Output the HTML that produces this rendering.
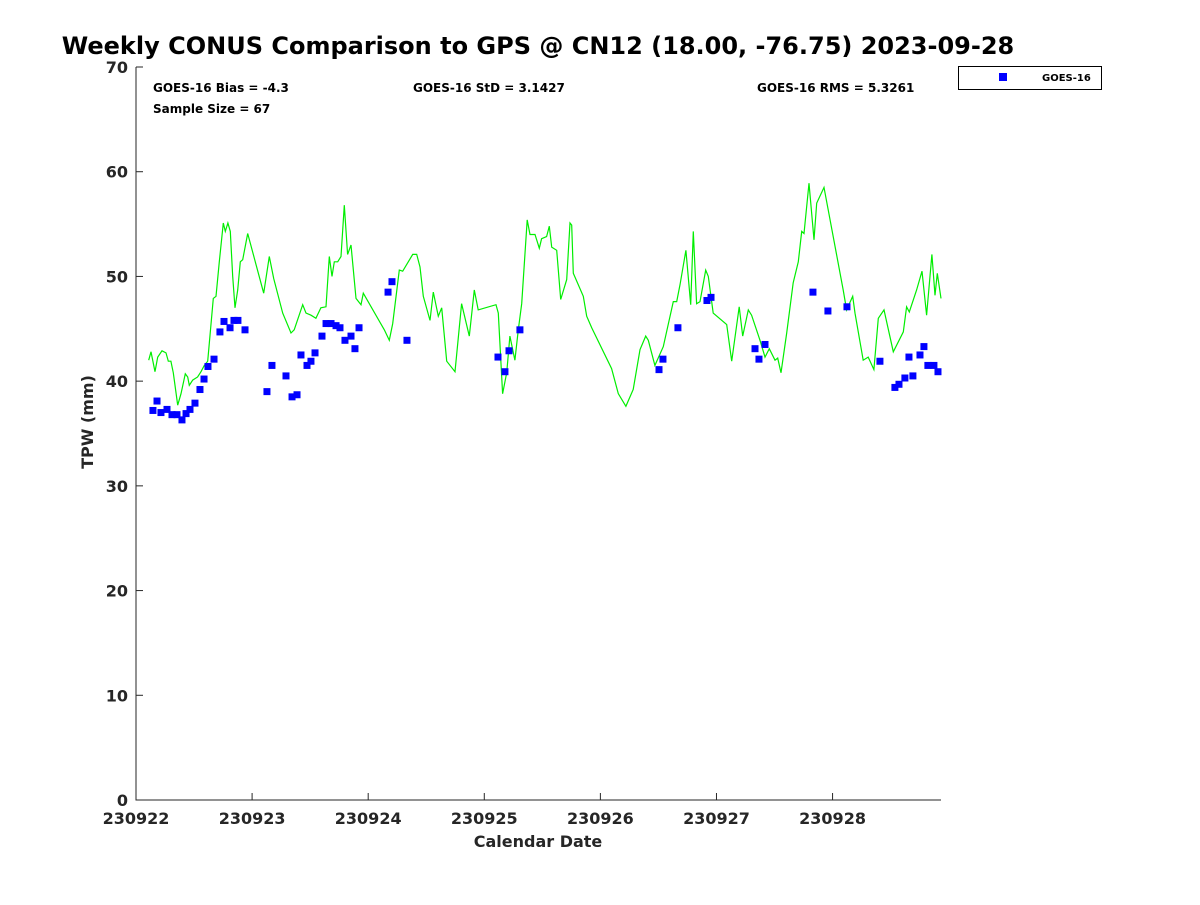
<!DOCTYPE html>
<html><head><meta charset="utf-8"><style>
body{margin:0;background:#fff;font-family:"Liberation Sans","DejaVu Sans",sans-serif;}
</style></head><body>
<svg id="chart" width="1200" height="900" xmlns="http://www.w3.org/2000/svg" style="font-family:'DejaVu Sans','Liberation Sans',sans-serif">
<rect width="1200" height="900" fill="#fff"/>
<text x="538" y="54" text-anchor="middle" font-size="24" font-weight="bold">Weekly CONUS Comparison to GPS @ CN12 (18.00, -76.75) 2023-09-28</text>
<g id="axes"></g>
<g id="series"></g>
<text x="153" y="92" font-size="12" font-weight="bold">GOES-16 Bias = -4.3</text>
<text x="153" y="113" font-size="12" font-weight="bold">Sample Size = 67</text>
<text x="413" y="92" font-size="12" font-weight="bold">GOES-16 StD = 3.1427</text>
<text x="757" y="92" font-size="12" font-weight="bold">GOES-16 RMS = 5.3261</text>
<g>
<rect x="958.5" y="66.5" width="143" height="23" fill="#fff" stroke="#000" stroke-width="1"/>
<rect x="999" y="73" width="8" height="8" fill="#0000ff"/>
<text x="1042" y="81" font-size="10" font-weight="bold">GOES-16</text>
</g>
<text x="538" y="847" text-anchor="middle" font-size="16" font-weight="bold" fill="#262626">Calendar Date</text>
<text x="93" y="422" text-anchor="middle" font-size="16" font-weight="bold" fill="#262626" transform="rotate(-90 93 422)">TPW (mm)</text>
</svg>
<script>
const xTickLabels=["230922","230923","230924","230925","230926","230927","230928"];
const yTickValues=[0,10,20,30,40,50,60,70];
const lineDays=[0.109,0.129,0.164,0.187,0.224,0.258,0.278,0.301,0.321,0.359,0.388,0.425,0.445,0.459,0.488,0.531,0.560,0.588,0.618,0.666,0.689,0.717,0.752,0.769,0.792,0.812,0.833,0.853,0.876,0.898,0.919,0.962,1.100,1.148,1.186,1.264,1.335,1.363,1.436,1.464,1.507,1.550,1.593,1.637,1.665,1.688,1.708,1.737,1.766,1.794,1.823,1.852,1.895,1.938,1.958,2.139,2.182,2.211,2.268,2.297,2.383,2.418,2.446,2.475,2.532,2.561,2.604,2.633,2.676,2.748,2.805,2.871,2.914,2.948,3.101,3.121,3.158,3.193,3.221,3.264,3.293,3.322,3.370,3.394,3.437,3.474,3.494,3.537,3.560,3.581,3.624,3.658,3.710,3.738,3.753,3.767,3.853,3.882,3.925,4.097,4.154,4.220,4.283,4.341,4.390,4.413,4.470,4.542,4.628,4.657,4.686,4.737,4.778,4.800,4.829,4.858,4.907,4.930,4.972,5.088,5.131,5.196,5.226,5.274,5.303,5.375,5.418,5.455,5.504,5.527,5.556,5.605,5.661,5.705,5.734,5.754,5.797,5.840,5.863,5.926,6.092,6.121,6.173,6.193,6.264,6.307,6.356,6.394,6.443,6.523,6.609,6.638,6.661,6.724,6.770,6.810,6.856,6.882,6.902,6.934];
const lineTPW=[42.0,42.8,40.9,42.3,42.9,42.7,41.9,41.9,40.8,37.7,38.8,40.7,40.4,39.6,40.1,40.4,40.9,41.5,41.9,47.9,48.1,51.3,55.1,54.3,55.1,54.3,50.0,47.0,48.7,51.4,51.6,54.1,48.4,51.9,49.8,46.5,44.6,44.9,47.3,46.5,46.3,46.0,47.0,47.1,51.9,50.0,51.4,51.4,51.9,56.8,52.1,53.0,47.9,47.3,48.4,44.9,43.9,45.5,50.6,50.5,52.1,52.1,50.9,48.1,45.8,48.5,46.2,47.0,41.9,40.9,47.4,44.3,48.7,46.8,47.3,46.5,38.8,40.8,44.3,42.0,44.9,47.4,55.4,54.0,54.0,52.7,53.6,53.8,54.8,52.8,52.5,47.8,49.7,55.1,54.9,50.3,48.1,46.2,45.1,41.2,38.8,37.6,39.2,43.0,44.3,43.9,41.5,43.3,47.6,47.6,49.2,52.5,47.3,54.3,47.4,47.6,50.6,50.0,46.5,45.4,41.9,47.1,44.3,46.8,46.3,43.9,42.3,43.1,42.0,42.2,40.8,44.6,49.4,51.4,54.3,54.1,58.9,53.5,57.0,58.5,48.7,46.8,48.1,46.5,42.0,42.3,41.1,46.0,46.8,42.8,44.7,47.1,46.6,48.7,50.5,46.3,52.1,48.2,50.3,47.9];
const goesDays=[0.146,0.181,0.215,0.267,0.310,0.353,0.396,0.431,0.465,0.508,0.551,0.586,0.620,0.672,0.723,0.758,0.810,0.844,0.878,0.939,1.128,1.171,1.292,1.344,1.387,1.421,1.473,1.507,1.542,1.602,1.637,1.680,1.723,1.757,1.800,1.852,1.886,1.921,2.171,2.205,2.334,3.118,3.178,3.213,3.307,4.505,4.539,4.668,4.918,4.953,5.332,5.366,5.418,5.831,5.960,6.124,6.408,6.537,6.572,6.623,6.658,6.692,6.753,6.787,6.821,6.873,6.908];
const goesTPW=[37.2,38.1,37.0,37.3,36.8,36.8,36.3,36.9,37.3,37.9,39.2,40.2,41.4,42.1,44.7,45.7,45.1,45.8,45.8,44.9,39.0,41.5,40.5,38.5,38.7,42.5,41.5,41.9,42.7,44.3,45.5,45.5,45.3,45.1,43.9,44.3,43.1,45.1,48.5,49.5,43.9,42.3,40.9,42.9,44.9,41.1,42.1,45.1,47.7,48.0,43.1,42.1,43.5,48.5,46.7,47.1,41.9,39.4,39.7,40.3,42.3,40.5,42.5,43.3,41.5,41.5,40.9];

const NS='http://www.w3.org/2000/svg';
const L=136,R=941,T=67,B=800,XMAX=6.934,YMAX=70;
function xs(d){return L+d/XMAX*(R-L);}
function ys(v){return B-v/YMAX*(B-T);}
function mk(tag,attrs,parent){const e=document.createElementNS(NS,tag);for(const k in attrs)e.setAttribute(k,attrs[k]);parent.appendChild(e);return e;}
const axes=document.getElementById('axes'),series=document.getElementById('series');
const frame=mk('path',{d:`M${L} ${T}V${B}H${R}`,fill:'none',stroke:'#262626','stroke-width':1},axes);


yTickValues.forEach(v=>{
  const y=ys(v);
  const t=mk('line',{x1:L,x2:L+7,y1:y,y2:y,stroke:'#262626'},axes);
  
  
  const lb=mk('text',{x:L-8,y:y+6,'text-anchor':'end','font-size':16,'font-weight':'bold',fill:'#262626'},axes);
  lb.textContent=v;
  
  
});
xTickLabels.forEach((s,i)=>{
  const x=xs(i);
  const t=mk('line',{x1:x,x2:x,y1:B,y2:B-7,stroke:'#262626'},axes);
  
  
  const lb=mk('text',{x:x,y:B+24,'text-anchor':'middle','font-size':16,'font-weight':'bold',fill:'#262626'},axes);
  lb.textContent=s;
  
  
});
const pts=lineDays.map((d,i)=>xs(d).toFixed(1)+','+ys(lineTPW[i]).toFixed(1)).join(' ');
const pl=mk('polyline',{points:pts,fill:'none',stroke:'#00ee00','stroke-width':1.2},series);


goesDays.forEach((d,i)=>{
  const r=mk('rect',{x:xs(d)-3.5,y:ys(goesTPW[i])-3.5,width:7,height:7,fill:'#0000ff'},series);
  
  
});
</script>
</body></html>
